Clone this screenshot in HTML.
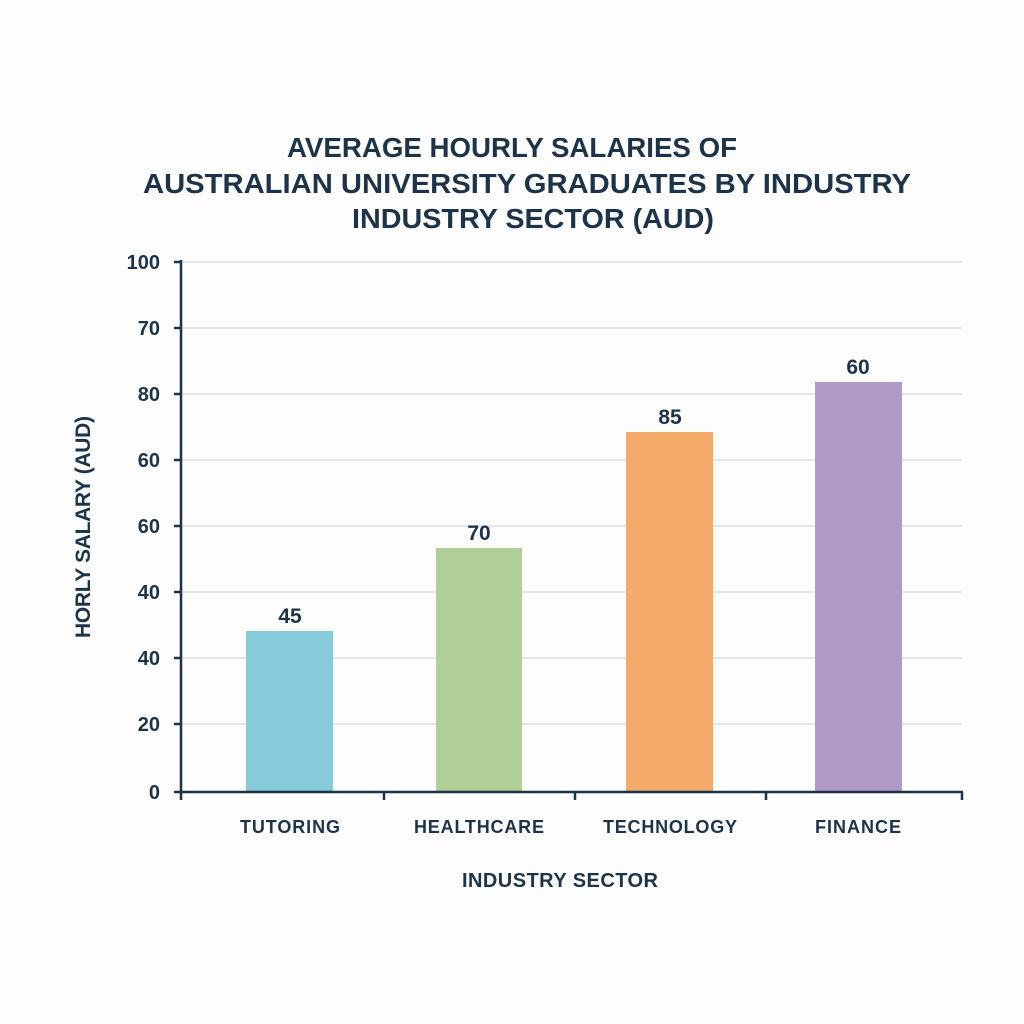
<!DOCTYPE html>
<html><head><style>
body{margin:0;background:#fff;}
svg{display:block;font-family:"Liberation Sans",sans-serif;font-weight:bold;}
</style></head><body>
<svg width="1024" height="1024" xmlns="http://www.w3.org/2000/svg">
<rect width="1024" height="1024" fill="#fdfdfd"/>
<g fill="#1d3349" font-size="28" text-anchor="middle" font-weight="bold">
<text x="512" y="157" textLength="450" lengthAdjust="spacingAndGlyphs">AVERAGE HOURLY SALARIES OF</text>
<text x="527" y="193" textLength="768" lengthAdjust="spacingAndGlyphs">AUSTRALIAN UNIVERSITY GRADUATES BY INDUSTRY</text>
<text x="533" y="228" textLength="362" lengthAdjust="spacingAndGlyphs">INDUSTRY SECTOR (AUD)</text>
</g>
<g stroke="#dedede" stroke-width="1.5">
<line x1="182" y1="262" x2="962" y2="262"/>
<line x1="182" y1="328" x2="962" y2="328"/>
<line x1="182" y1="394" x2="962" y2="394"/>
<line x1="182" y1="460" x2="962" y2="460"/>
<line x1="182" y1="526" x2="962" y2="526"/>
<line x1="182" y1="592" x2="962" y2="592"/>
<line x1="182" y1="658" x2="962" y2="658"/>
<line x1="182" y1="724" x2="962" y2="724"/>
</g>
<rect x="246" y="631" width="87" height="161" fill="#87cad9"/>
<rect x="436" y="548" width="86" height="244" fill="#b2cf97"/>
<rect x="626" y="432" width="87" height="360" fill="#f4ab6a"/>
<rect x="815" y="382" width="87" height="410" fill="#b09ac6"/>
<g stroke="#1d3349" stroke-width="2.5">
<line x1="181" y1="260" x2="181" y2="800"/>
<line x1="174" y1="792" x2="963" y2="792"/>
<line x1="174" y1="262" x2="181" y2="262"/>
<line x1="174" y1="328" x2="181" y2="328"/>
<line x1="174" y1="394" x2="181" y2="394"/>
<line x1="174" y1="460" x2="181" y2="460"/>
<line x1="174" y1="526" x2="181" y2="526"/>
<line x1="174" y1="592" x2="181" y2="592"/>
<line x1="174" y1="658" x2="181" y2="658"/>
<line x1="174" y1="724" x2="181" y2="724"/>
<line x1="384" y1="792" x2="384" y2="800"/>
<line x1="575" y1="792" x2="575" y2="800"/>
<line x1="766" y1="792" x2="766" y2="800"/>
<line x1="962" y1="792" x2="962" y2="800"/>
</g>
<g fill="#1d3349" font-size="20" text-anchor="end">
<text x="160" y="269">100</text>
<text x="160" y="335">70</text>
<text x="160" y="401">80</text>
<text x="160" y="467">60</text>
<text x="160" y="533">60</text>
<text x="160" y="599">40</text>
<text x="160" y="665">40</text>
<text x="160" y="731">20</text>
<text x="160" y="799">0</text>
</g>
<g fill="#1d3349" font-size="21" text-anchor="middle">
<text x="290" y="623">45</text>
<text x="479" y="540">70</text>
<text x="670" y="424">85</text>
<text x="858" y="374">60</text>
</g>
<g fill="#1d3349" font-size="18" text-anchor="middle" font-weight="normal">
<text x="290" y="833" font-weight="bold" textLength="100">TUTORING</text>
<text x="479" y="833" font-weight="bold" textLength="130">HEALTHCARE</text>
<text x="670" y="833" font-weight="bold" textLength="134">TECHNOLOGY</text>
<text x="858" y="833" font-weight="bold" textLength="86">FINANCE</text>
<text x="560" y="887" font-size="20" font-weight="bold" textLength="196">INDUSTRY SECTOR</text>
<text transform="translate(90,527) rotate(-90)" font-size="21" font-weight="bold" textLength="222">HORLY SALARY (AUD)</text>
</g>
</svg>
</body></html>
